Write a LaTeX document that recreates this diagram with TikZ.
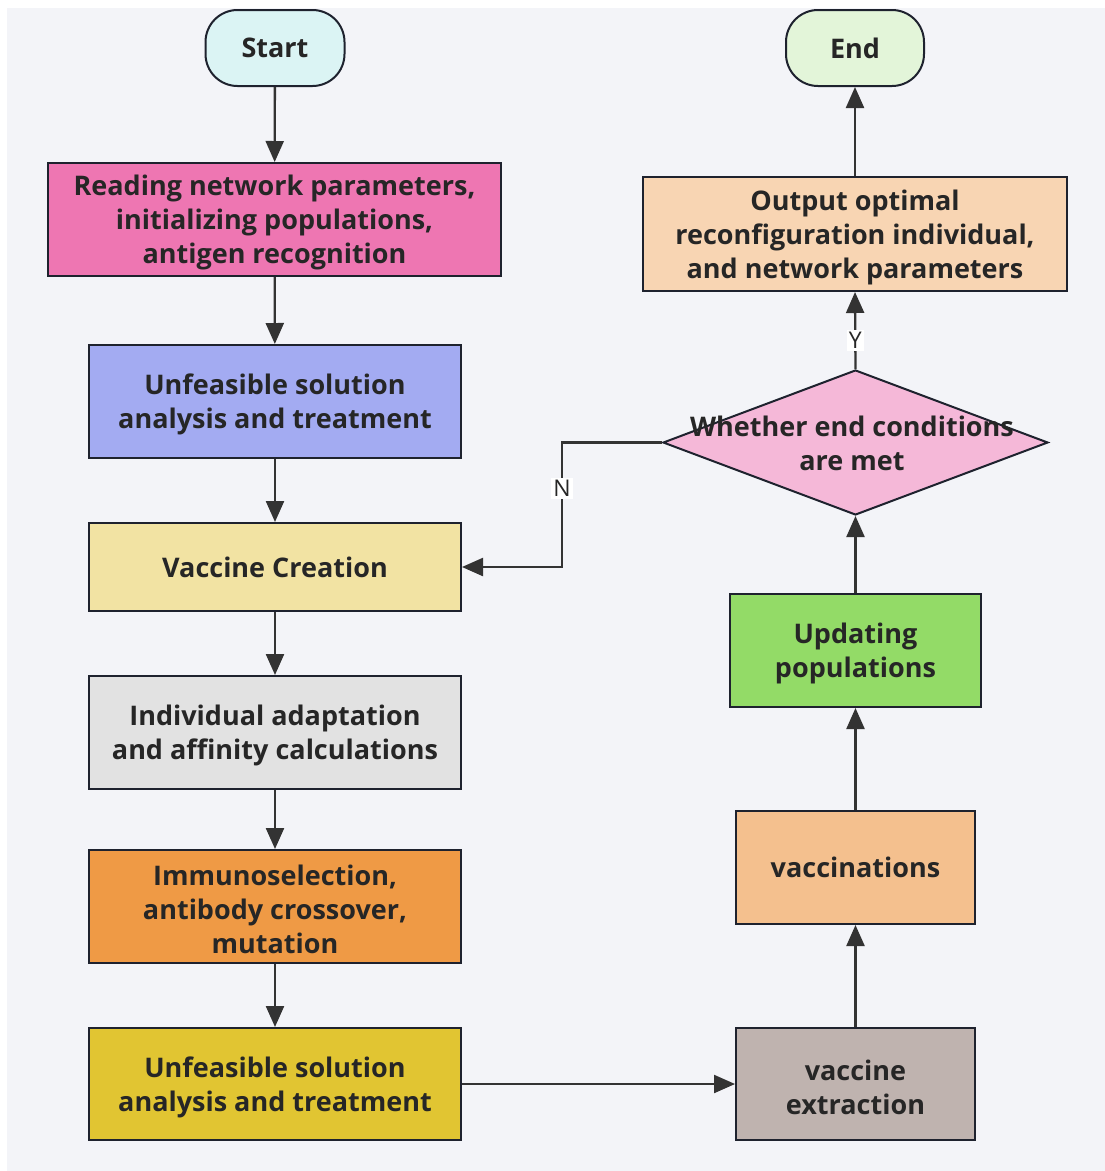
\documentclass[tikz,border=0pt]{standalone}
\usepackage{fontspec}
\setmainfont{Open Sans}
\usetikzlibrary{arrows.meta,shapes.geometric}
\definecolor{bgc}{HTML}{F3F4F8}
\definecolor{edgec}{HTML}{1E222E}
\definecolor{arrc}{HTML}{333333}
\definecolor{cStart}{HTML}{DBF4F4}
\definecolor{cEnd}{HTML}{E3F5D9}
\definecolor{cPink}{HTML}{EE76B2}
\definecolor{cBlue}{HTML}{A3ABF2}
\definecolor{cCream}{HTML}{F2E3A3}
\definecolor{cGray}{HTML}{E2E2E2}
\definecolor{cOrange}{HTML}{EF9A45}
\definecolor{cYellow}{HTML}{E1C532}
\definecolor{cTaupe}{HTML}{BFB3AF}
\definecolor{cPeach}{HTML}{F4C08E}
\definecolor{cGreen}{HTML}{93DB67}
\definecolor{cRose}{HTML}{F5B8D8}
\definecolor{cOut}{HTML}{F8D5B3}
\newcommand\tstr{\rule{0pt}{27pt}}
\tikzset{
  txt/.style={align=center, font=\bfseries\fontsize{27}{34}\selectfont, text=black!85},
  box/.style={txt, draw=edgec, line width=2pt, rectangle, inner sep=0pt},
  term/.style={box, rounded corners=32pt},
  conn/.style={draw=arrc, line width=2.3pt, -{Triangle[length=21pt,width=18pt]}},
  lbl/.style={fill=white, inner sep=2pt, font=\fontsize{23}{24}\selectfont, text=black!85},
}
\begin{document}
\begin{tikzpicture}[x=1pt,y=-1pt]
\useasboundingbox (0,0) rectangle (1105,1171);
\fill[white] (0,0) rectangle (1105,1171);
\fill[bgc] (7,8) rectangle (1105,1171);

\node[term, fill=cStart, minimum width=139pt, minimum height=76pt] (start) at (275,48) {Start};
\node[term, fill=cEnd, minimum width=138pt, minimum height=76pt] (end) at (855,48) {End};

\node[box, fill=cPink, minimum width=453pt, minimum height=113pt] (read) at (274.5,219.5)
  {\tstr Reading network parameters,\\initializing populations,\\antigen recognition};
\node[box, fill=cBlue, minimum width=372pt, minimum height=113pt] (unf1) at (275,401.5)
  {\tstr Unfeasible solution\\analysis and treatment};
\node[box, fill=cCream, minimum width=372pt, minimum height=88pt] (vac) at (275,567)
  {Vaccine Creation};
\node[box, fill=cGray, minimum width=372pt, minimum height=113pt] (ind) at (275,732.5)
  {\tstr Individual adaptation\\and affinity calculations};
\node[box, fill=cOrange, minimum width=372pt, minimum height=113pt] (imm) at (275,906.5)
  {\tstr Immunoselection,\\antibody crossover,\\mutation};
\node[box, fill=cYellow, minimum width=372pt, minimum height=112pt] (unf2) at (275,1084)
  {\tstr Unfeasible solution\\analysis and treatment};

\node[box, fill=cTaupe, minimum width=239pt, minimum height=112pt] (ext) at (855.5,1084)
  {\tstr vaccine\\extraction};
\node[box, fill=cPeach, minimum width=239pt, minimum height=113pt] (vacc) at (855.5,867.5)
  {vaccinations};
\node[box, fill=cGreen, minimum width=251pt, minimum height=113pt] (upd) at (855.5,650.5)
  {\tstr Updating\\populations};
\node[diamond, draw=edgec, line width=2pt, fill=cRose, minimum width=385pt, minimum height=145pt, inner sep=0pt] (dec) at (855.5,442.5) {};
\node[txt] (dectext) at (852,440)
  {\tstr Whether end conditions\\are met};
\node[box, fill=cOut, minimum width=424pt, minimum height=114pt] (out) at (855,234)
  {\tstr Output optimal\\reconfiguration individual,\\and network parameters};

\coordinate (nA) at (562,442.5);
\coordinate (nB) at (562,567);

\draw[conn] (start) -- (read);
\draw[conn] (read) -- (unf1);
\draw[conn] (unf1) -- (vac);
\draw[conn] (vac) -- (ind);
\draw[conn] (ind) -- (imm);
\draw[conn] (imm) -- (unf2);
\draw[conn] (unf2) -- (ext);
\draw[conn] (ext) -- (vacc);
\draw[conn] (vacc) -- (upd);
\draw[conn] (upd) -- (dec);
\draw[conn] (dec.north) -- node[lbl, pos=0.37] (ylab) {Y} (out.south);
\draw[conn] (out) -- (end);
\draw[conn] (dec.west) -- (nA) -- node[lbl, pos=0.37] (nlab) {N} (nB) -- (vac.east);
\end{tikzpicture}
\end{document}
